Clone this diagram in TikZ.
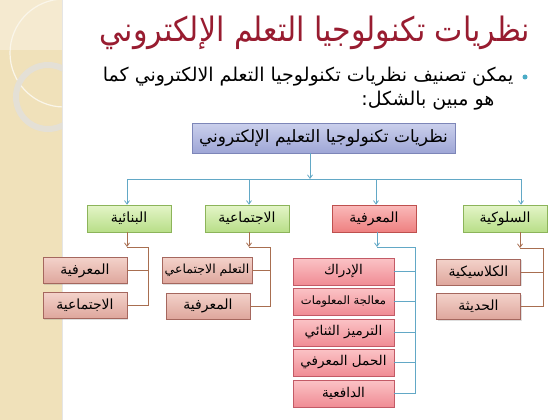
\documentclass[tikz,border=0pt]{standalone}
\usepackage{fontspec}
\newfontfamily\ar[Script=Arabic]{DejaVu Sans}
\TeXXeTstate=1
\usetikzlibrary{arrows.meta,shadows}
\definecolor{titlered}{RGB}{152,28,48}
\definecolor{bulletblue}{RGB}{75,172,198}
\definecolor{strip}{RGB}{240,225,186}
\definecolor{stripl}{RGB}{245,234,208}
\definecolor{ringc}{RGB}{228,224,214}
\definecolor{topA}{RGB}{203,208,236}
\definecolor{topB}{RGB}{158,166,214}
\definecolor{topD}{RGB}{125,134,184}
\definecolor{grA}{RGB}{228,245,200}
\definecolor{grB}{RGB}{184,222,136}
\definecolor{grD}{RGB}{140,180,90}
\definecolor{rdA}{RGB}{250,186,186}
\definecolor{rdB}{RGB}{238,128,128}
\definecolor{rdD}{RGB}{190,80,78}
\definecolor{roA}{RGB}{243,210,202}
\definecolor{roB}{RGB}{222,166,156}
\definecolor{roD}{RGB}{165,103,94}
\definecolor{pkA}{RGB}{251,195,198}
\definecolor{pkB}{RGB}{240,140,148}
\definecolor{pkD}{RGB}{195,90,102}
\definecolor{lineblue}{RGB}{98,168,198}
\definecolor{linebrown}{RGB}{168,110,80}
\begin{document}
\begin{tikzpicture}[x=1pt,y=-1pt,
  box/.style={draw, line width=0.6pt, inner sep=0pt, align=center,
    drop shadow={opacity=0.25, shadow xshift=1.2pt, shadow yshift=-1.2pt}},
  topbox/.style={box, draw=topD, top color=topA, bottom color=topB,
    minimum width=263pt, minimum height=30pt, font=\ar\fontsize{17}{20}\selectfont},
  greenbox/.style={box, draw=grD, top color=grA, bottom color=grB,
    minimum width=84pt, minimum height=27pt, font=\ar\fontsize{14}{16}\selectfont},
  redbox/.style={box, draw=rdD, top color=rdA, bottom color=rdB,
    minimum width=84pt, minimum height=27pt, font=\ar\fontsize{14}{16}\selectfont},
  rosebox/.style={box, draw=roD, top color=roA, bottom color=roB,
    minimum width=84pt, minimum height=26pt, font=\ar\fontsize{14}{16}\selectfont},
  pinkbox/.style={box, draw=pkD, top color=pkA, bottom color=pkB,
    minimum width=101pt, minimum height=27pt, font=\ar\fontsize{13.5}{16}\selectfont},
  bline/.style={draw=lineblue, line width=0.8pt},
  rline/.style={draw=linebrown, line width=0.8pt},
  tip/.style={-{Straight Barb[length=3.5pt,width=5pt]}}
]
% background
\fill[white] (0,0) rectangle (560,420);
\fill[strip] (0,0) rectangle (62,420);
\fill[stripl] (0,0) rectangle (62,50);
\fill[black!10] (61.5,0) rectangle (62.5,420);
\begin{scope}
\clip (0,0) rectangle (62,420);
\draw[white!70!strip, line width=1.2pt] (64,53) circle[radius=54];
\draw[ringc, line width=6pt] (48,97) circle[radius=32];
\end{scope}

% title and bullet text
\node[font=\ar\fontsize{30}{36}\selectfont, text=titlered, yscale=1.12] (title) at (315,33)
  {\beginR نظريات تكنولوجيا التعلم الإلكتروني\endR};
\node[circle, fill=bulletblue, inner sep=0pt, minimum size=5pt] (dot) at (525,77) {};
\node[anchor=east, font=\ar\fontsize{19}{22}\selectfont] (line1) at (517,77)
  {\beginR يمكن تصنيف نظريات تكنولوجيا التعلم الالكتروني كما\endR};
\node[anchor=east, font=\ar\fontsize{19}{22}\selectfont] (line2) at (498,101)
  {\beginR هو مبين بالشكل:\endR};

% top box
\node[topbox] (top) at (323.5,138) {\beginR نظريات تكنولوجيا التعليم الإلكتروني\endR};

% level 1
\node[greenbox] (bina) at (129,218.5) {\beginR البنائية\endR};
\node[greenbox] (ijt) at (247,218.5) {\beginR الاجتماعية\endR};
\node[redbox] (mar) at (374,218.5) {\beginR المعرفية\endR};
\node[greenbox] (sul) at (505,218.5) {\beginR السلوكية\endR};

% hub connectors
\coordinate (hub) at (310,179);
\coordinate (h1) at (127,179);
\coordinate (h2) at (249,179);
\coordinate (h3) at (376,179);
\coordinate (h4) at (521,179);
\draw[bline, tip] (top.south -| hub) -- (hub);
\draw[bline] (h1) -- (h4);
\draw[bline, tip] (h1) -- (h1 |- bina.north);
\draw[bline, tip] (h2) -- (h2 |- ijt.north);
\draw[bline, tip] (h3) -- (h3 |- mar.north);
\draw[bline, tip] (h4) -- (h4 |- sul.north);

% level 2: bina
\node[rosebox] (b1) at (85,270.5) {\beginR المعرفية\endR};
\node[rosebox] (b2) at (85,305.5) {\beginR الاجتماعية\endR};
\coordinate (bj) at (127,247);
\coordinate (bk) at (148,247);
\draw[rline, tip] (bina.south -| bj) -- (bj);
\draw[rline] (bj) -- (bk) -- (bk |- b2.east) -- (b2.east);
\draw[rline] (bk |- b1.east) -- (b1.east);

% level 2: ijtima
\node[rosebox, minimum width=90pt, font=\ar\fontsize{12.5}{15}\selectfont] (j1) at (207,270.5) {\beginR التعلم الاجتماعي\endR};
\node[rosebox] (j2) at (208,306) {\beginR المعرفية\endR};
\coordinate (jj) at (249,247);
\coordinate (jk) at (270,247);
\draw[rline, tip] (ijt.south -| jj) -- (jj);
\draw[rline] (jj) -- (jk) -- (jk |- j2.east) -- (j2.east);
\draw[rline] (jk |- j1.east) -- (j1.east);

% level 2: marifa
\node[pinkbox] (m1) at (343.5,271.5) {\beginR الإدراك\endR};
\node[pinkbox, font=\ar\fontsize{11.5}{14}\selectfont] (m2) at (343.5,301.5) {\beginR معالجة المعلومات\endR};
\node[pinkbox] (m3) at (343.5,332.5) {\beginR الترميز الثنائي\endR};
\node[pinkbox] (m4) at (343.5,362.5) {\beginR الحمل المعرفي\endR};
\node[pinkbox] (m5) at (343.5,393.5) {\beginR الدافعية\endR};
\coordinate (mj) at (377,247);
\coordinate (mk) at (415,247);
\draw[bline, tip] (mar.south -| mj) -- (mj);
\draw[bline] (mj) -- (mk) -- (mk |- m5.east) -- (m5.east);
\draw[bline] (mk |- m1.east) -- (m1.east);
\draw[bline] (mk |- m2.east) -- (m2.east);
\draw[bline] (mk |- m3.east) -- (m3.east);
\draw[bline] (mk |- m4.east) -- (m4.east);

% level 2: suluk
\node[rosebox] (s1) at (478.5,272) {\beginR الكلاسيكية\endR};
\node[rosebox] (s2) at (478.5,306.5) {\beginR الحديثة\endR};
\coordinate (sj) at (520,248);
\coordinate (sk) at (543,248);
\draw[rline, tip] (sul.south -| sj) -- (sj);
\draw[rline] (sj) -- (sk) -- (sk |- s2.east) -- (s2.east);
\draw[rline] (sk |- s1.east) -- (s1.east);

\useasboundingbox (0,0) rectangle (560,420);
\end{tikzpicture}
\end{document}
